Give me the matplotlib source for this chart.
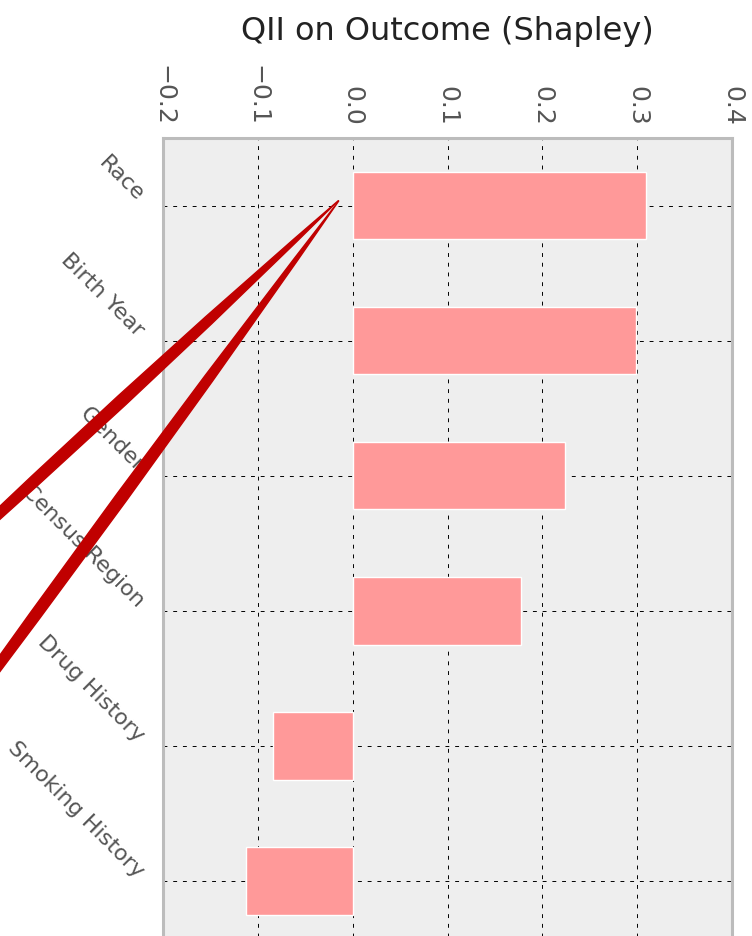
# Horizontal bar chart of Shapley QII values per feature
import matplotlib
matplotlib.use('Agg')
import matplotlib.pyplot as plt

# features, top to bottom
features = ['Race', 'Birth Year', 'Gender', 'Census Region', 'Drug History', 'Smoking History']
# QII values
qii = [0.309, 0.299, 0.224, 0.177, -0.084, -0.113]
x_ticks = [-0.2, -0.1, 0.0, 0.1, 0.2, 0.3, 0.4]

fig = plt.figure(figsize=(7.52, 9.36), dpi=100)
# axes runs past the bottom edge of the figure, as in the original crop
ax = fig.add_axes([0.2168, -0.0134, 0.7566, 0.866])

ax.set_facecolor('#eeeeee')
for s in ax.spines.values():
    s.set_color('#bcbcbc')
    s.set_linewidth(2.2)

ypos = list(range(len(features)))
ax.barh(ypos, qii, height=0.5, color='#ff9999', edgecolor='white', linewidth=1, zorder=2)

ax.set_xlim(-0.2, 0.4)
ax.set_ylim(len(features) - 0.5, -0.5)
ax.xaxis.tick_top()
ax.set_xticks(x_ticks)
ax.set_yticks(ypos)
ax.set_yticklabels(features, rotation=-45, fontsize=16, color='#555555', va='bottom')
ax.tick_params(axis='x', labelsize=18, labelcolor='#555555', labelrotation=-90, length=0, pad=9)
ax.tick_params(axis='y', length=0, pad=11)

ax.set_axisbelow(True)
ax.grid(True, color='black', linestyle=(0, (4, 6)), linewidth=0.7)

ax.set_title('QII on Outcome (Shapley)', fontsize=23, color='#222222', pad=18)

# the two red wedges that come in from the left edge
arrow_kw = dict(arrowstyle='wedge,tail_width=0.68,shrink_factor=1.15',
                color='#c00000', mutation_scale=10)
ax.annotate('', xy=(-0.013, -0.05), xycoords='data',
            xytext=(-10, 414), textcoords='figure pixels',
            arrowprops=arrow_kw, annotation_clip=False)
ax.annotate('', xy=(-0.013, -0.05), xycoords='data',
            xytext=(-10, 259), textcoords='figure pixels',
            arrowprops=arrow_kw, annotation_clip=False)

fig.savefig('out.png', dpi=100)
